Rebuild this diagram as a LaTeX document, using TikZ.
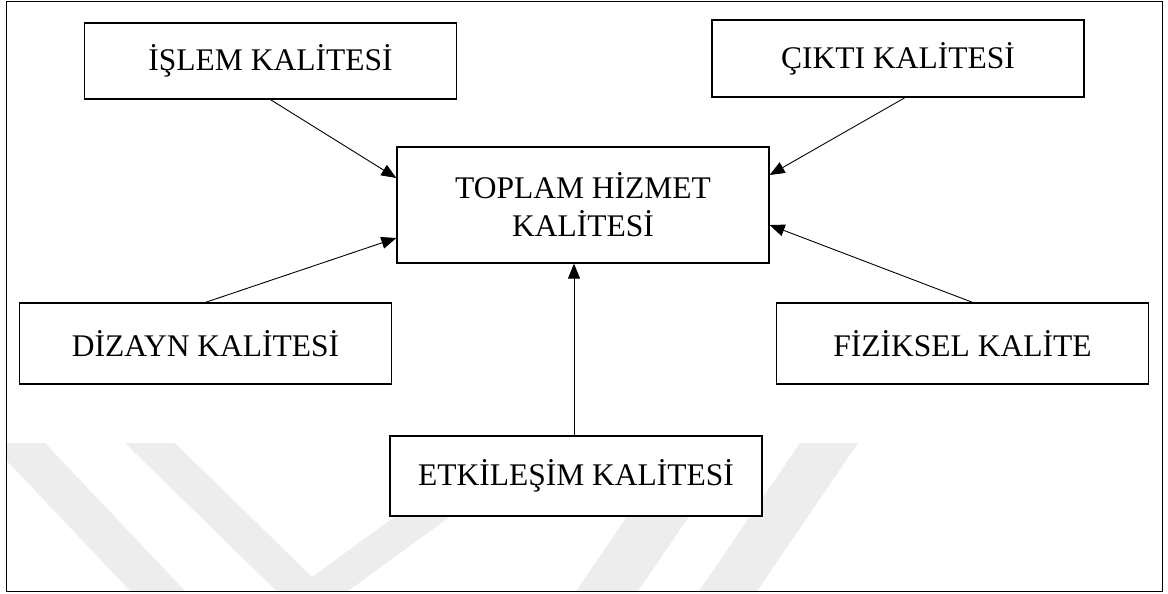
\documentclass[tikz,border=0pt]{standalone}
\usepackage{fontspec}
\setmainfont{Liberation Serif}
\usetikzlibrary{arrows.meta,calc}
\definecolor{wmgray}{HTML}{EDEDED}
\begin{document}
\begin{tikzpicture}[x=1pt,y=-1pt,
  box/.style={draw,line width=1.3pt,fill=white,minimum width=372pt,
    inner sep=0pt,align=center,font=\fontsize{31.5}{38}\selectfont},
  link/.style={line width=0.9pt,-{Triangle[length=15pt,width=12pt]}}]
\useasboundingbox (0,0) rectangle (1168,594);

% faint chevron watermark behind the diagram
\begin{scope}
  \clip (7,2) rectangle (1162,591);
  \fill[wmgray] (-10,443) -- (45,443) -- (188,594) -- (133,594) -- cycle;
  \fill[wmgray] (125,443) -- (175,443) -- (312,577) -- (496,443) -- (551,443) -- (307,621) -- cycle;
  \fill[wmgray] (677,443) -- (739,443) -- (632,600) -- (570,600) -- cycle;
  \fill[wmgray] (800,443) -- (858,443) -- (751,600) -- (693,600) -- cycle;
\end{scope}

% outer frame
\draw[line width=1.8pt] (6.5,1.5) rectangle (1162.5,591.5);

% boxes
\node[box,minimum height=76pt]  (islem)     at (270.5,61)   {İŞLEM KALİTESİ};
\node[box,minimum height=77pt]  (cikti)     at (898,58.5)   {ÇIKTI KALİTESİ};
\node[box,minimum height=116pt] (toplam)    at (583,205)    {TOPLAM HİZMET\\KALİTESİ};
\node[box,minimum height=81pt]  (dizayn)    at (205.5,343.5){DİZAYN KALİTESİ};
\node[box,minimum height=81pt]  (fiziksel)  at (962.5,343.5){FİZİKSEL KALİTE};
\node[box,minimum height=80pt]  (etkilesim) at (576,476)    {ETKİLEŞİM KALİTESİ};

% connectors into the central box
\draw[link] (islem.south) -- ([yshift=27pt]toplam.west);
\draw[link] ([xshift=7pt]cikti.south) -- ([yshift=30pt]toplam.east);
\draw[link] (dizayn.north) -- ([yshift=-33pt]toplam.west);
\draw[link] ([xshift=10pt]fiziksel.north) -- ([yshift=-20pt]toplam.east);
\draw[link] ([xshift=-2pt]etkilesim.north) -- ([xshift=-2pt]etkilesim.north |- toplam.south);
\end{tikzpicture}
\end{document}
